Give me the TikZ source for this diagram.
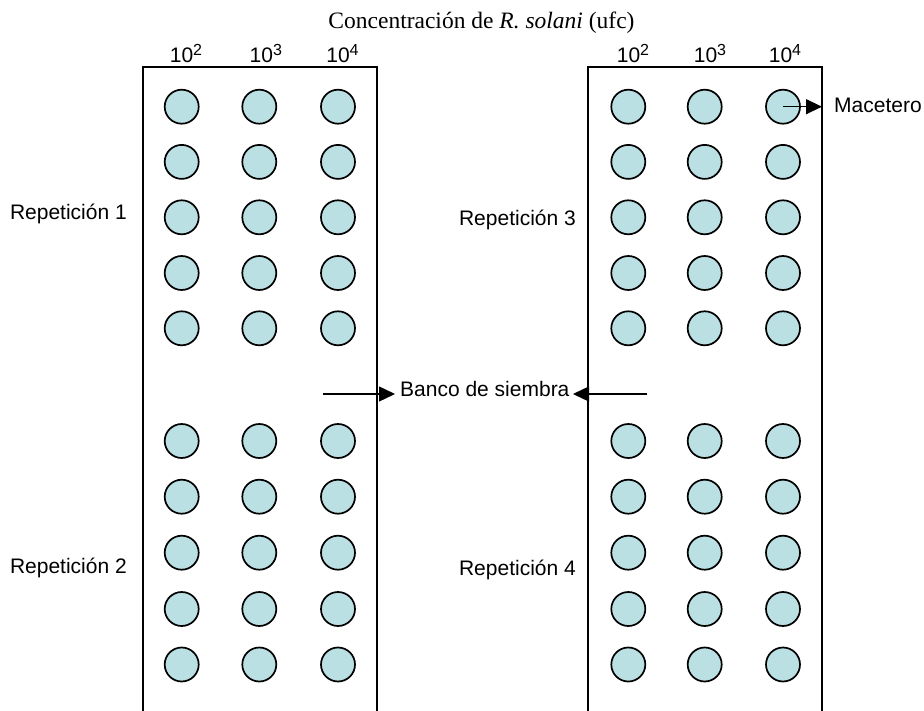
\documentclass[tikz,border=0pt]{standalone}
\usepackage{fontspec}
\setmainfont{Liberation Sans}
\newfontfamily\timesf{Liberation Serif}
\usetikzlibrary{arrows.meta}
\definecolor{potfill}{RGB}{187,224,227}
\newcommand{\myexp}[1]{\raisebox{7.5pt}{\fontsize{16}{16}\selectfont #1}}
\begin{document}
\begin{tikzpicture}[x=1pt,y=-1pt,
  pot/.style={circle,draw=black,line width=1.7pt,fill=potfill,minimum size=34pt,inner sep=0pt},
  bench/.style={draw=black,line width=1.7pt},
  lbl/.style={inner sep=0pt,font=\fontsize{21}{25}\selectfont},
  conn/.style={draw=black,line width=1.3pt,-{Triangle[length=16pt,width=15pt]}}]
\useasboundingbox (0,0) rectangle (924,711);
% benches (open at the bottom)
\coordinate (LA) at (143,711); \coordinate (LB) at (143,67);
\coordinate (LC) at (377,67);  \coordinate (LD) at (377,711);
\coordinate (RA) at (588,711); \coordinate (RB) at (588,67);
\coordinate (RC) at (822,67);  \coordinate (RD) at (822,711);
\draw[bench] (LA) -- (LB) -- (LC) -- (LD);
\draw[bench] (RA) -- (RB) -- (RC) -- (RD);
% pots
\foreach \c/\x in {1/181.7,2/259.3,3/338}{
  \foreach \r/\y in {1/106.7,2/161.9,3/217.3,4/273,5/328.3,6/441,7/496.7,8/552.7,9/609,10/664.5}{
    \node[pot] (L-\c-\r) at (\x,\y) {};
  }
}
\foreach \c/\x in {1/628.3,2/704.7,3/783}{
  \foreach \r/\y in {1/106.7,2/161.9,3/217.3,4/273,5/328.3,6/441,7/496.7,8/552.7,9/609,10/664.5}{
    \node[pot] (R-\c-\r) at (\x,\y) {};
  }
}
% title
\node[inner sep=0pt,anchor=base,font=\timesf\fontsize{23.5}{28}\selectfont] (title) at (481.5,29)
  {Concentración de \textit{R. solani} (ufc)};
% column headers
\node[lbl,anchor=base] (hL2) at (186,63) {10\myexp{2}};
\node[lbl,anchor=base] (hL3) at (265.8,63) {10\myexp{3}};
\node[lbl,anchor=base] (hL4) at (342.5,63) {10\myexp{4}};
\node[lbl,anchor=base] (hR2) at (633,63) {10\myexp{2}};
\node[lbl,anchor=base] (hR3) at (710,63) {10\myexp{3}};
\node[lbl,anchor=base] (hR4) at (785,63) {10\myexp{4}};
% repetition labels
\node[lbl,anchor=base east] (rep1) at (127,220) {Repetición 1};
\node[lbl,anchor=base east] (rep2) at (127,573) {Repetición 2};
\node[lbl,anchor=base east] (rep3) at (576,226) {Repetición 3};
\node[lbl,anchor=base east] (rep4) at (576,575) {Repetición 4};
% Macetero
\node[lbl,anchor=base west] (mac) at (834,113) {Macetero};
\coordinate (macTip) at (822,106.7);
\draw[conn] (R-3-1.center) -- (macTip);
% Banco de siembra
\node[lbl,anchor=base west] (banco) at (400,396) {Banco de siembra};
\coordinate (bL0) at (323,394); \coordinate (bL1) at (395,394);
\coordinate (bR0) at (647,394); \coordinate (bR1) at (573,394);
\draw[conn] (bL0) -- (bL1);
\draw[conn] (bR0) -- (bR1);
\end{tikzpicture}
\end{document}
